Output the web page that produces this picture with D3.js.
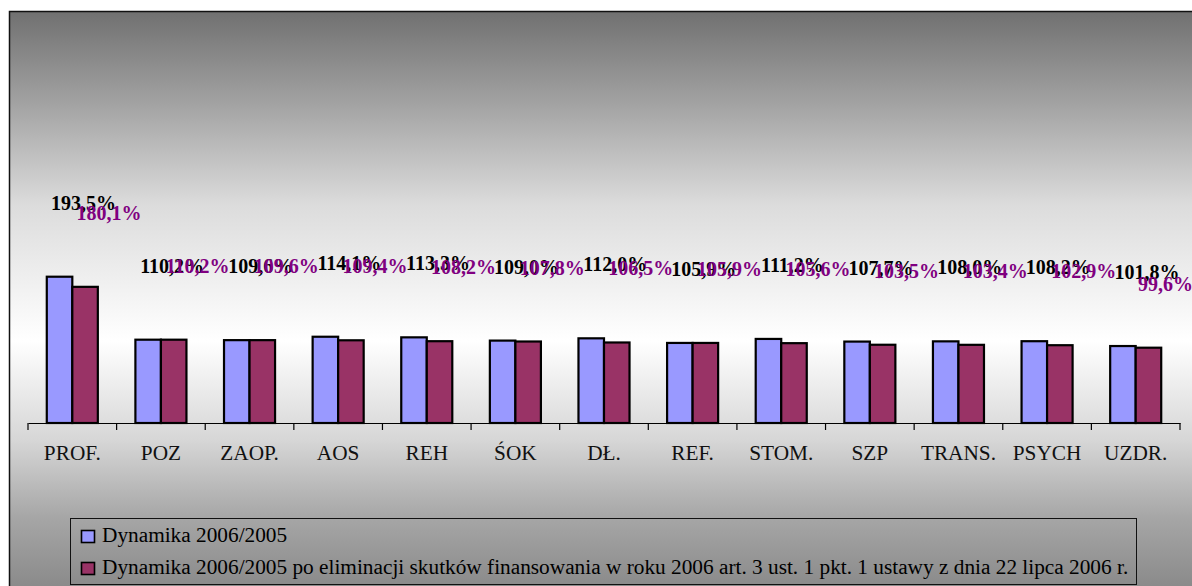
<!DOCTYPE html>
<html lang="pl">
<head>
<meta charset="utf-8">
<script src="https://cdn.jsdelivr.net/npm/d3@7"></script>
<style>
  html, body { margin: 0; padding: 0; background: #fff; }
  svg { display: block; font-family: "Liberation Serif", "Times New Roman", serif; }
</style>
</head>
<body>
<svg id="chart" width="1192" height="586"></svg>
<script>
// Kategorie świadczeń
const categories = ["PROF.", "POZ", "ZAOP.", "AOS", "REH", "ŚOK", "DŁ.", "REF.", "STOM.", "SZP", "TRANS.", "PSYCH", "UZDR."];
// Dynamika 2006/2005 (%)
const dynamika = [193.5, 110.2, 109.6, 114.1, 113.3, 109.0, 112.0, 105.9, 111.2, 107.7, 108.0, 108.2, 101.8];
// Dynamika po eliminacji skutków finansowania (%)
const dynamikaPoEliminacji = [180.1, 110.2, 109.6, 109.4, 108.2, 107.8, 106.5, 105.9, 105.6, 103.5, 103.4, 102.9, 99.6];
const seriesNames = [
  "Dynamika 2006/2005",
  "Dynamika 2006/2005 po eliminacji skutków finansowania w roku 2006 art. 3 ust. 1 pkt. 1 ustawy z dnia 22 lipca 2006 r."
];

const W = 1192, H = 586;
const svg = d3.select("#chart");

// Tło wykresu: gradient szary – biały – szary
const defs = svg.append("defs");
const grad = defs.append("linearGradient")
  .attr("id", "bg").attr("gradientUnits", "userSpaceOnUse")
  .attr("x1", 0).attr("y1", 11).attr("x2", 0).attr("y2", 600);
[[0, "#707070"], [0.15, "#a0a0a0"], [0.33, "#dcdcdc"], [0.56, "#ffffff"], [0.73, "#d6d6d6"], [0.86, "#a6a6a6"], [1, "#858585"]]
  .forEach(([o, c]) => grad.append("stop").attr("offset", o).attr("stop-color", c));

svg.append("rect")
  .attr("x", 9.5).attr("y", 11.5).attr("width", W + 20).attr("height", H + 20)
  .attr("fill", "url(#bg)").attr("stroke", "#111").attr("stroke-width", 1.5);

// Skale
const plot = { left: 28, right: 1180, base: 423, top: 234 };
const y = d3.scaleLinear().domain([0, 250]).range([plot.base, plot.top]);
const xCat = d3.scaleBand().domain(categories).range([plot.left, plot.right]);
const x0 = d3.scaleBand().domain(categories).range([plot.left, plot.right])
  .paddingInner(0.424).paddingOuter(0.212);
const x1 = d3.scaleBand().domain([0, 1]).range([0, x0.bandwidth()]);
const colors = ["#9999ff", "#993366"];
const labelColors = ["#000000", "#800080"];

const rows = categories.map((c, i) => ({ cat: c, vals: [dynamika[i], dynamikaPoEliminacji[i]] }));

// Słupki
const groups = svg.append("g").selectAll("g").data(rows).join("g")
  .attr("transform", d => `translate(${x0(d.cat)},0)`);
groups.selectAll("rect").data(d => d.vals.map((v, s) => ({ v, s }))).join("rect")
  .attr("x", d => x1(d.s))
  .attr("y", d => y(d.v))
  .attr("width", x1.bandwidth())
  .attr("height", d => plot.base - y(d.v))
  .attr("fill", d => colors[d.s])
  .attr("stroke", "#000").attr("stroke-width", 2.2);

// Oś kategorii
const axis = d3.axisBottom(xCat).tickSize(0).tickSizeOuter(0).tickPadding(22);
const gAxis = svg.append("g").attr("transform", `translate(0,${plot.base})`).call(axis);
gAxis.select(".domain").attr("stroke", "#000").attr("stroke-width", 1.2);
gAxis.selectAll("text").attr("font-size", 21.3).attr("fill", "#111")
  .attr("font-family", "'Liberation Serif', 'Times New Roman', serif");
const bounds = categories.map(c => xCat(c)).concat([xCat(categories[categories.length - 1]) + xCat.bandwidth()]);
svg.append("g").selectAll("line").data(bounds).join("line")
  .attr("x1", d => d).attr("x2", d => d)
  .attr("y1", plot.base).attr("y2", plot.base + 7)
  .attr("stroke", "#000").attr("stroke-width", 1.2);

// Etykiety wartości
const fmt = v => d3.format(".1f")(v).replace(".", ",") + "%";
const labelLayer = svg.append("g")
  .attr("font-size", 20).attr("font-weight", "bold").attr("text-anchor", "middle");
rows.forEach(r => {
  r.vals.forEach((v, s) => {
    const t = labelLayer.append("text")
      .attr("fill", labelColors[s])
      .text(fmt(v));
    let cx = x0(r.cat) + x1(s) + x1.bandwidth() / 2 + 24;
    let by = y(v) - 67;
    const w = t.node().getComputedTextLength();
    if (cx + w / 2 > W) { cx = W + 1 - w / 2; by += 10; }
    t.attr("x", cx).attr("y", by);
  });
});

// Legenda
const lg = svg.append("g");
lg.append("rect").attr("x", 70.5).attr("y", 518.5).attr("width", 1066).attr("height", 66)
  .attr("fill", "none").attr("stroke", "#111").attr("stroke-width", 1);
seriesNames.forEach((name, i) => {
  const ry = 530 + i * 32;
  lg.append("rect").attr("x", 81.5).attr("y", ry + 0.5).attr("width", 13).attr("height", 12)
    .attr("fill", colors[i]).attr("stroke", "#000").attr("stroke-width", 1.6);
  lg.append("text").attr("x", 102).attr("y", ry + 12).attr("font-size", 21.3).attr("fill", "#000")
    .text(name);
});
</script>
</body>
</html>
